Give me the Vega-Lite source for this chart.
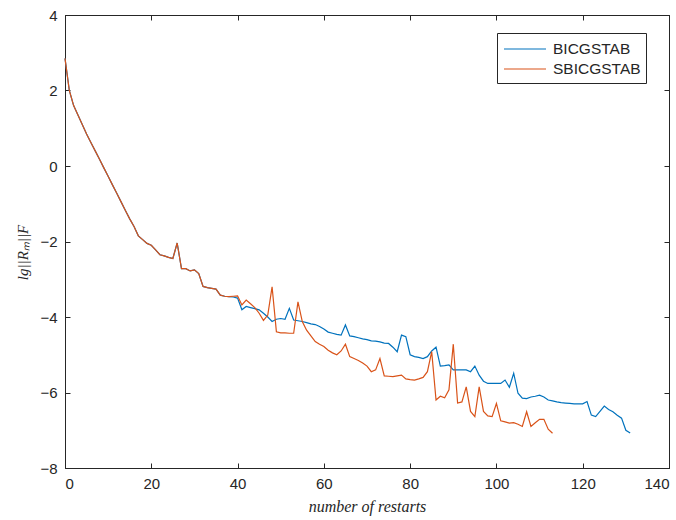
{
  "$schema": "https://vega.github.io/schema/vega-lite/v6.json",
  "width": 604,
  "height": 453,
  "autosize": {"type": "none"},
  "padding": {"left": 65, "top": 15, "right": 7, "bottom": 52},
  "background": "white",
  "config": {
    "view": {"stroke": "#262626", "strokeWidth": 1},
    "axis": {
      "grid": false,
      "domainColor": "#262626",
      "tickColor": "#262626",
      "labelColor": "#262626",
      "labelFont": "Liberation Sans",
      "labelFontSize": 15,
      "titleFont": "Liberation Serif",
      "titleFontStyle": "italic",
      "titleFontWeight": "normal",
      "titleFontSize": 16,
      "titleColor": "#262626",
      "tickSize": -5,
      "domain": true
    },
    "legend": {
      "labelFont": "Liberation Sans",
      "labelFontSize": 15.5,
      "labelColor": "#262626",
      "strokeColor": "#262626",
      "fillColor": "white",
      "padding": 5,
      "rowPadding": 0,
      "symbolType": "M-2.1,0H2.1",
      "symbolSize": 400,
      "symbolOffset": 12,
      "labelOffset": 17,
      "symbolStrokeWidth": 1.2
    }
  },
  "data": {
    "values": [
      {"x":0,"y":2.85,"s":"BICGSTAB"},{"x":1,"y":2.0,"s":"BICGSTAB"},{"x":2,"y":1.6,"s":"BICGSTAB"},{"x":3,"y":1.35,"s":"BICGSTAB"},{"x":4,"y":1.1,"s":"BICGSTAB"},{"x":5,"y":0.85,"s":"BICGSTAB"},{"x":6,"y":0.62,"s":"BICGSTAB"},{"x":7,"y":0.4,"s":"BICGSTAB"},{"x":8,"y":0.18,"s":"BICGSTAB"},{"x":9,"y":-0.05,"s":"BICGSTAB"},
      {"x":10,"y":-0.27,"s":"BICGSTAB"},{"x":11,"y":-0.5,"s":"BICGSTAB"},{"x":12,"y":-0.72,"s":"BICGSTAB"},{"x":13,"y":-0.95,"s":"BICGSTAB"},{"x":14,"y":-1.18,"s":"BICGSTAB"},{"x":15,"y":-1.4,"s":"BICGSTAB"},{"x":16,"y":-1.6,"s":"BICGSTAB"},{"x":17,"y":-1.85,"s":"BICGSTAB"},{"x":18,"y":-1.95,"s":"BICGSTAB"},{"x":19,"y":-2.05,"s":"BICGSTAB"},
      {"x":20,"y":-2.1,"s":"BICGSTAB"},{"x":21,"y":-2.22,"s":"BICGSTAB"},{"x":22,"y":-2.35,"s":"BICGSTAB"},{"x":23,"y":-2.38,"s":"BICGSTAB"},{"x":24,"y":-2.42,"s":"BICGSTAB"},{"x":25,"y":-2.45,"s":"BICGSTAB"},{"x":26,"y":-2.04,"s":"BICGSTAB"},{"x":27,"y":-2.72,"s":"BICGSTAB"},{"x":28,"y":-2.72,"s":"BICGSTAB"},{"x":29,"y":-2.78,"s":"BICGSTAB"},
      {"x":30,"y":-2.75,"s":"BICGSTAB"},{"x":31,"y":-2.85,"s":"BICGSTAB"},{"x":32,"y":-3.19,"s":"BICGSTAB"},{"x":33,"y":-3.22,"s":"BICGSTAB"},{"x":34,"y":-3.24,"s":"BICGSTAB"},{"x":35,"y":-3.26,"s":"BICGSTAB"},{"x":36,"y":-3.42,"s":"BICGSTAB"},{"x":37,"y":-3.45,"s":"BICGSTAB"},{"x":38,"y":-3.46,"s":"BICGSTAB"},{"x":39,"y":-3.47,"s":"BICGSTAB"},
      {"x":40,"y":-3.5,"s":"BICGSTAB"},{"x":41,"y":-3.81,"s":"BICGSTAB"},{"x":42,"y":-3.72,"s":"BICGSTAB"},{"x":43,"y":-3.75,"s":"BICGSTAB"},{"x":44,"y":-3.78,"s":"BICGSTAB"},{"x":45,"y":-3.81,"s":"BICGSTAB"},{"x":46,"y":-3.9,"s":"BICGSTAB"},{"x":47,"y":-4.0,"s":"BICGSTAB"},{"x":48,"y":-4.12,"s":"BICGSTAB"},{"x":49,"y":-4.06,"s":"BICGSTAB"},
      {"x":50,"y":-4.04,"s":"BICGSTAB"},{"x":51,"y":-4.06,"s":"BICGSTAB"},{"x":52,"y":-3.77,"s":"BICGSTAB"},{"x":53,"y":-4.08,"s":"BICGSTAB"},{"x":54,"y":-4.1,"s":"BICGSTAB"},{"x":55,"y":-4.12,"s":"BICGSTAB"},{"x":56,"y":-4.15,"s":"BICGSTAB"},{"x":57,"y":-4.18,"s":"BICGSTAB"},{"x":58,"y":-4.2,"s":"BICGSTAB"},{"x":59,"y":-4.25,"s":"BICGSTAB"},
      {"x":60,"y":-4.32,"s":"BICGSTAB"},{"x":61,"y":-4.4,"s":"BICGSTAB"},{"x":62,"y":-4.43,"s":"BICGSTAB"},{"x":63,"y":-4.46,"s":"BICGSTAB"},{"x":64,"y":-4.48,"s":"BICGSTAB"},{"x":65,"y":-4.21,"s":"BICGSTAB"},{"x":66,"y":-4.5,"s":"BICGSTAB"},{"x":67,"y":-4.52,"s":"BICGSTAB"},{"x":68,"y":-4.55,"s":"BICGSTAB"},{"x":69,"y":-4.58,"s":"BICGSTAB"},
      {"x":70,"y":-4.6,"s":"BICGSTAB"},{"x":71,"y":-4.63,"s":"BICGSTAB"},{"x":72,"y":-4.64,"s":"BICGSTAB"},{"x":73,"y":-4.66,"s":"BICGSTAB"},{"x":74,"y":-4.69,"s":"BICGSTAB"},{"x":75,"y":-4.7,"s":"BICGSTAB"},{"x":76,"y":-4.8,"s":"BICGSTAB"},{"x":77,"y":-4.92,"s":"BICGSTAB"},{"x":78,"y":-4.48,"s":"BICGSTAB"},{"x":79,"y":-4.52,"s":"BICGSTAB"},
      {"x":80,"y":-5.0,"s":"BICGSTAB"},{"x":81,"y":-5.05,"s":"BICGSTAB"},{"x":82,"y":-5.07,"s":"BICGSTAB"},{"x":83,"y":-5.1,"s":"BICGSTAB"},{"x":84,"y":-5.05,"s":"BICGSTAB"},{"x":85,"y":-4.9,"s":"BICGSTAB"},{"x":86,"y":-4.8,"s":"BICGSTAB"},{"x":87,"y":-5.3,"s":"BICGSTAB"},{"x":88,"y":-5.29,"s":"BICGSTAB"},{"x":89,"y":-5.27,"s":"BICGSTAB"},
      {"x":90,"y":-5.4,"s":"BICGSTAB"},{"x":91,"y":-5.4,"s":"BICGSTAB"},{"x":92,"y":-5.4,"s":"BICGSTAB"},{"x":93,"y":-5.4,"s":"BICGSTAB"},{"x":94,"y":-5.45,"s":"BICGSTAB"},{"x":95,"y":-5.3,"s":"BICGSTAB"},{"x":96,"y":-5.54,"s":"BICGSTAB"},{"x":97,"y":-5.7,"s":"BICGSTAB"},{"x":98,"y":-5.76,"s":"BICGSTAB"},{"x":99,"y":-5.76,"s":"BICGSTAB"},
      {"x":100,"y":-5.76,"s":"BICGSTAB"},{"x":101,"y":-5.76,"s":"BICGSTAB"},{"x":102,"y":-5.67,"s":"BICGSTAB"},{"x":103,"y":-5.86,"s":"BICGSTAB"},{"x":104,"y":-5.49,"s":"BICGSTAB"},{"x":105,"y":-6.02,"s":"BICGSTAB"},{"x":106,"y":-6.15,"s":"BICGSTAB"},{"x":107,"y":-6.16,"s":"BICGSTAB"},{"x":108,"y":-6.12,"s":"BICGSTAB"},{"x":109,"y":-6.1,"s":"BICGSTAB"},
      {"x":110,"y":-6.07,"s":"BICGSTAB"},{"x":111,"y":-6.12,"s":"BICGSTAB"},{"x":112,"y":-6.2,"s":"BICGSTAB"},{"x":113,"y":-6.22,"s":"BICGSTAB"},{"x":114,"y":-6.25,"s":"BICGSTAB"},{"x":115,"y":-6.27,"s":"BICGSTAB"},{"x":116,"y":-6.28,"s":"BICGSTAB"},{"x":117,"y":-6.29,"s":"BICGSTAB"},{"x":118,"y":-6.3,"s":"BICGSTAB"},{"x":119,"y":-6.3,"s":"BICGSTAB"},
      {"x":120,"y":-6.3,"s":"BICGSTAB"},{"x":121,"y":-6.24,"s":"BICGSTAB"},{"x":122,"y":-6.6,"s":"BICGSTAB"},{"x":123,"y":-6.64,"s":"BICGSTAB"},{"x":124,"y":-6.5,"s":"BICGSTAB"},{"x":125,"y":-6.36,"s":"BICGSTAB"},{"x":126,"y":-6.45,"s":"BICGSTAB"},{"x":127,"y":-6.51,"s":"BICGSTAB"},{"x":128,"y":-6.6,"s":"BICGSTAB"},{"x":129,"y":-6.68,"s":"BICGSTAB"},
      {"x":130,"y":-7.0,"s":"BICGSTAB"},{"x":131,"y":-7.07,"s":"BICGSTAB"},
      {"x":0,"y":2.85,"s":"SBICGSTAB"},{"x":1,"y":2.0,"s":"SBICGSTAB"},{"x":2,"y":1.6,"s":"SBICGSTAB"},{"x":3,"y":1.35,"s":"SBICGSTAB"},{"x":4,"y":1.1,"s":"SBICGSTAB"},{"x":5,"y":0.85,"s":"SBICGSTAB"},{"x":6,"y":0.62,"s":"SBICGSTAB"},{"x":7,"y":0.4,"s":"SBICGSTAB"},{"x":8,"y":0.18,"s":"SBICGSTAB"},{"x":9,"y":-0.05,"s":"SBICGSTAB"},
      {"x":10,"y":-0.27,"s":"SBICGSTAB"},{"x":11,"y":-0.5,"s":"SBICGSTAB"},{"x":12,"y":-0.72,"s":"SBICGSTAB"},{"x":13,"y":-0.95,"s":"SBICGSTAB"},{"x":14,"y":-1.18,"s":"SBICGSTAB"},{"x":15,"y":-1.4,"s":"SBICGSTAB"},{"x":16,"y":-1.6,"s":"SBICGSTAB"},{"x":17,"y":-1.85,"s":"SBICGSTAB"},{"x":18,"y":-1.95,"s":"SBICGSTAB"},{"x":19,"y":-2.05,"s":"SBICGSTAB"},
      {"x":20,"y":-2.1,"s":"SBICGSTAB"},{"x":21,"y":-2.22,"s":"SBICGSTAB"},{"x":22,"y":-2.35,"s":"SBICGSTAB"},{"x":23,"y":-2.38,"s":"SBICGSTAB"},{"x":24,"y":-2.42,"s":"SBICGSTAB"},{"x":25,"y":-2.45,"s":"SBICGSTAB"},{"x":26,"y":-2.04,"s":"SBICGSTAB"},{"x":27,"y":-2.72,"s":"SBICGSTAB"},{"x":28,"y":-2.72,"s":"SBICGSTAB"},{"x":29,"y":-2.78,"s":"SBICGSTAB"},
      {"x":30,"y":-2.75,"s":"SBICGSTAB"},{"x":31,"y":-2.85,"s":"SBICGSTAB"},{"x":32,"y":-3.19,"s":"SBICGSTAB"},{"x":33,"y":-3.22,"s":"SBICGSTAB"},{"x":34,"y":-3.24,"s":"SBICGSTAB"},{"x":35,"y":-3.26,"s":"SBICGSTAB"},{"x":36,"y":-3.42,"s":"SBICGSTAB"},{"x":37,"y":-3.45,"s":"SBICGSTAB"},{"x":38,"y":-3.46,"s":"SBICGSTAB"},{"x":39,"y":-3.45,"s":"SBICGSTAB"},
      {"x":40,"y":-3.44,"s":"SBICGSTAB"},{"x":41,"y":-3.68,"s":"SBICGSTAB"},{"x":42,"y":-3.55,"s":"SBICGSTAB"},{"x":43,"y":-3.65,"s":"SBICGSTAB"},{"x":44,"y":-3.75,"s":"SBICGSTAB"},{"x":45,"y":-3.9,"s":"SBICGSTAB"},{"x":46,"y":-4.09,"s":"SBICGSTAB"},{"x":47,"y":-3.95,"s":"SBICGSTAB"},{"x":48,"y":-3.2,"s":"SBICGSTAB"},{"x":49,"y":-4.39,"s":"SBICGSTAB"},
      {"x":50,"y":-4.42,"s":"SBICGSTAB"},{"x":51,"y":-4.42,"s":"SBICGSTAB"},{"x":52,"y":-4.43,"s":"SBICGSTAB"},{"x":53,"y":-4.43,"s":"SBICGSTAB"},{"x":54,"y":-3.6,"s":"SBICGSTAB"},{"x":55,"y":-4.12,"s":"SBICGSTAB"},{"x":56,"y":-4.35,"s":"SBICGSTAB"},{"x":57,"y":-4.5,"s":"SBICGSTAB"},{"x":58,"y":-4.65,"s":"SBICGSTAB"},{"x":59,"y":-4.72,"s":"SBICGSTAB"},
      {"x":60,"y":-4.78,"s":"SBICGSTAB"},{"x":61,"y":-4.88,"s":"SBICGSTAB"},{"x":62,"y":-4.95,"s":"SBICGSTAB"},{"x":63,"y":-5.0,"s":"SBICGSTAB"},{"x":64,"y":-4.9,"s":"SBICGSTAB"},{"x":65,"y":-4.72,"s":"SBICGSTAB"},{"x":66,"y":-5.05,"s":"SBICGSTAB"},{"x":67,"y":-5.1,"s":"SBICGSTAB"},{"x":68,"y":-5.15,"s":"SBICGSTAB"},{"x":69,"y":-5.22,"s":"SBICGSTAB"},
      {"x":70,"y":-5.3,"s":"SBICGSTAB"},{"x":71,"y":-5.45,"s":"SBICGSTAB"},{"x":72,"y":-5.4,"s":"SBICGSTAB"},{"x":73,"y":-5.1,"s":"SBICGSTAB"},{"x":74,"y":-5.56,"s":"SBICGSTAB"},{"x":75,"y":-5.57,"s":"SBICGSTAB"},{"x":76,"y":-5.58,"s":"SBICGSTAB"},{"x":77,"y":-5.56,"s":"SBICGSTAB"},{"x":78,"y":-5.54,"s":"SBICGSTAB"},{"x":79,"y":-5.64,"s":"SBICGSTAB"},
      {"x":80,"y":-5.66,"s":"SBICGSTAB"},{"x":81,"y":-5.67,"s":"SBICGSTAB"},{"x":82,"y":-5.64,"s":"SBICGSTAB"},{"x":83,"y":-5.6,"s":"SBICGSTAB"},{"x":84,"y":-5.45,"s":"SBICGSTAB"},{"x":85,"y":-4.92,"s":"SBICGSTAB"},{"x":86,"y":-6.2,"s":"SBICGSTAB"},{"x":87,"y":-6.1,"s":"SBICGSTAB"},{"x":88,"y":-6.14,"s":"SBICGSTAB"},{"x":89,"y":-5.93,"s":"SBICGSTAB"},
      {"x":90,"y":-4.72,"s":"SBICGSTAB"},{"x":91,"y":-6.28,"s":"SBICGSTAB"},{"x":92,"y":-6.25,"s":"SBICGSTAB"},{"x":93,"y":-5.85,"s":"SBICGSTAB"},{"x":94,"y":-6.5,"s":"SBICGSTAB"},{"x":95,"y":-6.64,"s":"SBICGSTAB"},{"x":96,"y":-5.85,"s":"SBICGSTAB"},{"x":97,"y":-6.5,"s":"SBICGSTAB"},{"x":98,"y":-6.62,"s":"SBICGSTAB"},{"x":99,"y":-6.64,"s":"SBICGSTAB"},
      {"x":100,"y":-6.29,"s":"SBICGSTAB"},{"x":101,"y":-6.75,"s":"SBICGSTAB"},{"x":102,"y":-6.78,"s":"SBICGSTAB"},{"x":103,"y":-6.81,"s":"SBICGSTAB"},{"x":104,"y":-6.8,"s":"SBICGSTAB"},{"x":105,"y":-6.84,"s":"SBICGSTAB"},{"x":106,"y":-6.9,"s":"SBICGSTAB"},{"x":107,"y":-6.51,"s":"SBICGSTAB"},{"x":108,"y":-6.9,"s":"SBICGSTAB"},{"x":109,"y":-6.8,"s":"SBICGSTAB"},
      {"x":110,"y":-6.71,"s":"SBICGSTAB"},{"x":111,"y":-6.71,"s":"SBICGSTAB"},{"x":112,"y":-6.97,"s":"SBICGSTAB"},{"x":113,"y":-7.08,"s":"SBICGSTAB"}
    ]
  },
  "layer": [
    {
      "mark": {"type": "line", "strokeWidth": 1.2},
      "encoding": {
        "x": {"field": "x", "type": "quantitative", "scale": {"domain": [0, 140], "nice": false, "zero": false},
              "axis": {"orient": "bottom", "values": [0,20,40,60,80,100,120,140], "title": "number of restarts", "labelPadding": 13, "titleBaseline": "middle", "titleY": 38}},
        "y": {"field": "y", "type": "quantitative", "scale": {"domain": [-8, 4], "nice": false, "zero": false},
              "axis": {"orient": "left", "values": [-8,-6,-4,-2,0,2,4], "title": "lg||Rₘ||F", "labelPadding": 13, "titleX": -43, "titleY": 237, "titleBaseline": "middle", "titleFontSize": 15}},
        "color": {"field": "s", "type": "nominal",
                  "scale": {"domain": ["BICGSTAB", "SBICGSTAB"], "range": ["#0072BD", "#D95319"]},
                  "legend": {"title": null, "orient": "none", "legendX": 432, "legendY": 18}},
        "order": {"field": "x", "type": "quantitative"}
      }
    },
    {
      "mark": {"type": "line", "opacity": 0},
      "encoding": {
        "x": {"field": "x", "type": "quantitative", "scale": {"domain": [0, 140], "nice": false, "zero": false},
              "axis": {"orient": "top", "values": [0,20,40,60,80,100,120,140], "labels": false, "title": null}},
        "y": {"field": "y", "type": "quantitative", "scale": {"domain": [-8, 4], "nice": false, "zero": false},
              "axis": {"orient": "right", "values": [-8,-6,-4,-2,0,2,4], "labels": false, "title": null}}
      }
    }
  ],
  "resolve": {"axis": {"x": "independent", "y": "independent"}}
}
